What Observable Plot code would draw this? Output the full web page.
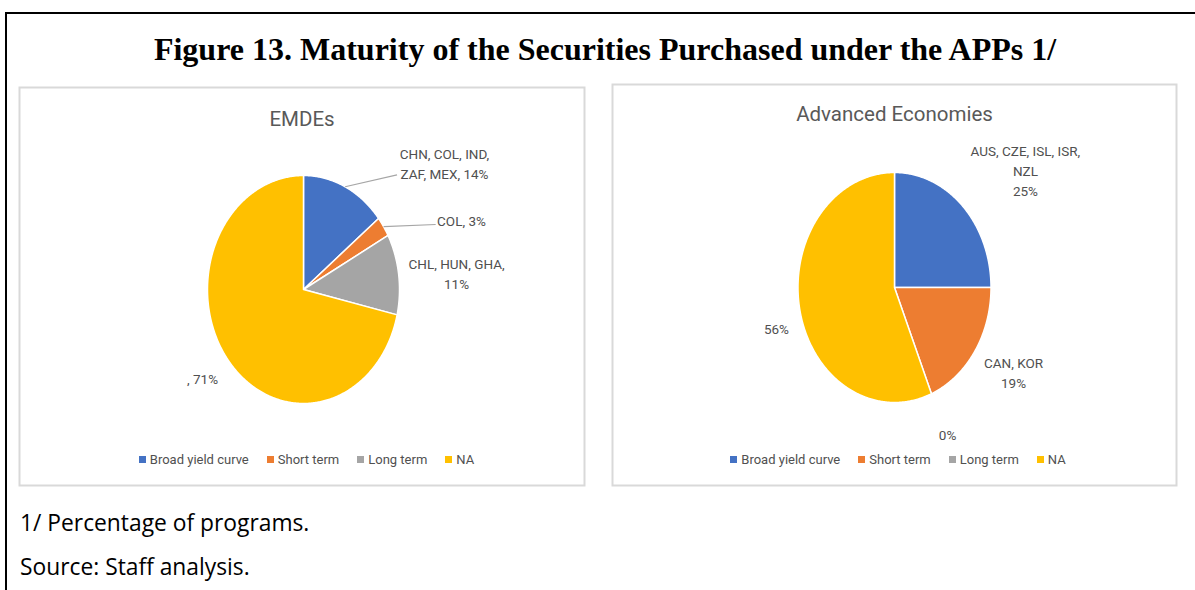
<!DOCTYPE html>
<html><head><meta charset="utf-8">
<script src="https://cdn.jsdelivr.net/npm/d3@7"></script>
<script src="https://cdn.jsdelivr.net/npm/@observablehq/plot@0.6"></script>
<style>
body{margin:0;background:#fff;}
#fig{position:relative;width:1195px;height:590px;overflow:hidden;background:#fff;}
#outer{position:absolute;left:5px;top:12px;width:1200px;height:600px;border-top:2.5px solid #000;border-left:2.5px solid #000;box-sizing:border-box;}
#title{position:absolute;left:0;top:31px;width:1210px;line-height:36px;text-align:center;font-family:"Liberation Serif","Times New Roman",serif;font-weight:bold;font-size:32px;color:#000;white-space:nowrap;}
.panel{position:absolute;}
.legwrap{position:absolute;left:0;right:0;display:flex;justify-content:center;}
.note{position:absolute;left:20px;font-family:"Open Sans","Noto Sans",sans-serif;font-size:22.8px;line-height:30px;color:#000;white-space:nowrap;}
.lg-swatch{margin-right:18px !important;}
.lg-swatch:last-child{margin-right:0 !important;}
.lg-swatch > svg{margin-right:4px !important;}
.lg-swatches{min-height:0 !important;}
</style>
</head><body>
<div id="fig">
  <div id="outer"></div>
  <div id="title">Figure 13. Maturity of the Securities Purchased under the APPs 1/</div>
  <div class="panel" id="p1" style="left:18px;top:86px;width:567px;height:400px;"></div>
  <div class="panel" id="p2" style="left:611px;top:83px;width:566px;height:403px;"></div>
  <div class="note" style="top:508px;">1/ Percentage of programs.</div>
  <div class="note" style="top:552px;">Source: Staff analysis.</div>
</div>
<script>
// ---- data ----
const categories = ["Broad yield curve", "Short term", "Long term", "NA"];
const colors = ["#4472C4", "#ED7D31", "#A5A5A5", "#FFC000"];
const emdeCounts = [5, 1, 4, 25];
const emdeNames = ["CHN, COL, IND,\nZAF, MEX, ", "COL, ", "CHL, HUN, GHA,\n", ", "];
const advCounts = [4, 3, 0, 9];
const advNames = ["AUS, CZE, ISL, ISR,\nNZL\n", "CAN, KOR\n", "", ""];

// ---- layout ----
const chartFont = 'Roboto,"Noto Sans",sans-serif';
const textColor = "#595959";
const pct = d3.format(".0%");

function pie(el, cfg) {
  const {counts, names, title, w, h, cx, cy, rx, ry, titleY, labels, leaders, legendY, legendShift} = cfg;
  const total = d3.sum(counts);
  const arcs = d3.pie().sort(null).value(d => d)(counts);
  const pts = [];
  arcs.forEach((a, i) => {
    const span = a.endAngle - a.startAngle;
    if (span <= 0) return;
    const n = Math.max(2, Math.ceil(span / 0.01));
    pts.push({cat: categories[i], x: 0, y: 0});
    for (let k = 0; k <= n; k++) {
      const t = a.startAngle + span * k / n;
      pts.push({cat: categories[i], x: Math.sin(t), y: Math.cos(t)});
    }
    pts.push({cat: categories[i], x: 0, y: 0});
  });
  const polar = (deg, r) => [r * Math.sin(deg * Math.PI / 180), r * Math.cos(deg * Math.PI / 180)];
  const labelData = arcs.map((a, i) => {
    const [x, y] = polar(labels[i][0], labels[i][1]);
    return {text: names[i] + pct(counts[i] / total), x, y};
  });
  const leaderData = [];
  arcs.forEach((a, i) => {
    if (!leaders[i]) return;
    const mid = (a.startAngle + a.endAngle) / 2;
    const [x2, y2] = polar(leaders[i][0], leaders[i][1]);
    leaderData.push({x1: Math.sin(mid), y1: Math.cos(mid), x2, y2});
  });
  const chart = Plot.plot({
    width: w, height: h, margin: 0,
    style: {fontFamily: chartFont, background: "transparent", overflow: "visible"},
    x: {domain: [-1, 1], range: [cx - rx, cx + rx], axis: null},
    y: {domain: [-1, 1], range: [cy + ry, cy - ry], axis: null},
    color: {domain: categories, range: colors},
    marks: [
      Plot.frame({stroke: "#d9d9d9", strokeWidth: 2, inset: 1}),
      Plot.text([title], {frameAnchor: "top", dy: titleY, lineAnchor: "middle", fontSize: 20.5, fill: textColor}),
      Plot.line(pts, {x: "x", y: "y", z: "cat", fill: "cat", stroke: "#fff", strokeWidth: 1.5, strokeLinejoin: "round"}),
      Plot.link(leaderData, {x1: "x1", y1: "y1", x2: "x2", y2: "y2", stroke: "#a6a6a6", strokeWidth: 1.2}),
      Plot.text(labelData, {x: "x", y: "y", text: "text", fontSize: 13.5, fill: "#505050", lineHeight: 1.48, lineAnchor: "middle"})
    ]
  });
  el.appendChild(chart);
  const leg = Plot.legend({
    color: {domain: categories, range: colors},
    legend: "swatches", swatchSize: 7, className: "lg",
    style: {fontFamily: chartFont, fontSize: "13px", color: "#505050"}
  });
  const wrap = document.createElement("div");
  wrap.className = "legwrap";
  wrap.style.top = legendY + "px";
  wrap.style.paddingLeft = legendShift + "px";
  wrap.appendChild(leg);
  el.appendChild(wrap);
}

pie(document.getElementById("p1"), {
  counts: emdeCounts, names: emdeNames, title: "EMDEs",
  w: 567, h: 400, cx: 285, cy: 203, rx: 96, ry: 114, titleY: 33, legendY: 366, legendShift: 10,
  labels: [[52.8, 1.844], [69.5, 1.757], [84.7, 1.601], [233.7, 1.305]],
  leaders: [[44.1, 1.40], [67.5, 1.49], null, null]
});
pie(document.getElementById("p2"), {
  counts: advCounts, names: advNames, title: "Advanced Economies",
  w: 566, h: 403, cx: 283, cy: 204, rx: 96.5, ry: 115, titleY: 31, legendY: 369, legendShift: 8,
  labels: [[52.9, 1.701], [120.6, 1.433], [156.6, 1.384], [254.1, 1.272]],
  leaders: [null, null, null, null]
});
</script>
</body></html>
